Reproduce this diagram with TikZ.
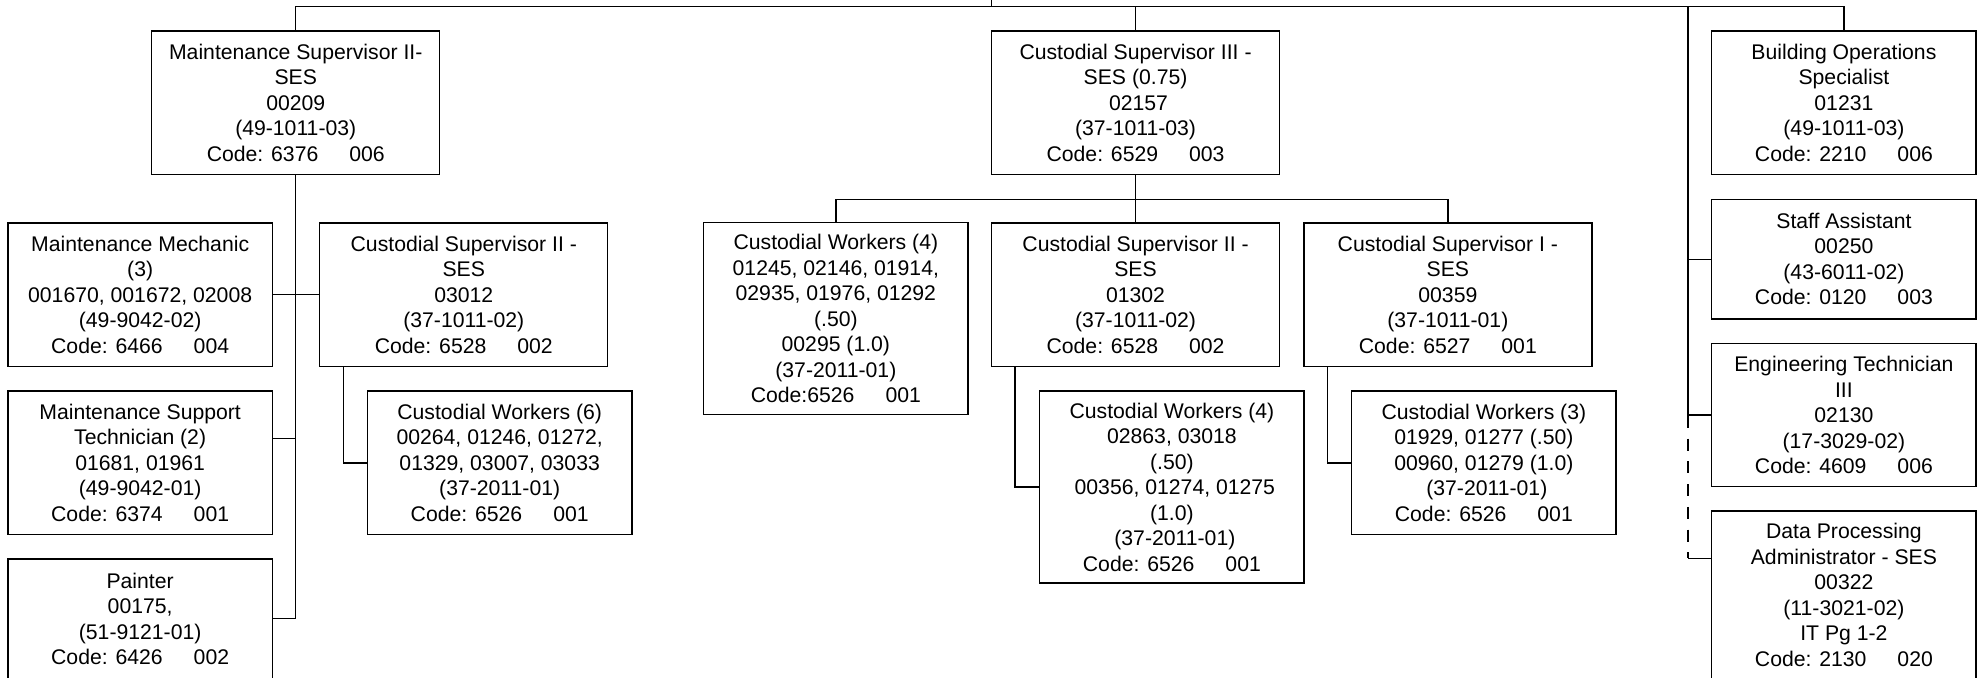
\documentclass[tikz,border=0pt]{standalone}
\usepackage{fontspec}
\setmainfont{Liberation Sans}
\usetikzlibrary{calc}
% gap between the code number and the unit number
\newcommand{\codegap}{\hspace{15.5pt}}
\newcommand{\lead}{\hspace*{0.28em}}
\begin{document}
\begin{tikzpicture}[x=0.5pt,y=-0.5pt,
  line width=0.65pt,
  box/.style={draw, line width=0.65pt, align=center, inner sep=0pt,
    font=\fontsize{10.6}{12.75}\selectfont, anchor=center},
  wide/.style={box, minimum width=144pt},
  narrow/.style={box, minimum width=132.15pt},
  rows4/.style={minimum height=59.8pt},
  rows5/.style={minimum height=71.8pt},
  rows6/.style={minimum height=83.75pt},
  rows7/.style={minimum height=96pt},
  link/.style={draw, line width=0.65pt},
  dashlink/.style={draw, line width=0.65pt, dash pattern=on 6pt off 5.35pt, dash phase=6pt}]
\clip (0,0) rectangle (1985,677);
\useasboundingbox (0,0) rectangle (1985,677);

% ---- top row ----
\node[wide,rows5] (ms) at (295.75,102.65) {Maintenance Supervisor II-\\SES\\00209\\(49-1011-03)\\Code: 6376\codegap 006};
\node[wide,rows5] (cs3) at (1135.55,102.65) {Custodial Supervisor III -\\SES (0.75)\\\lead 02157\\(37-1011-03)\\Code: 6529\codegap 003};
\node[narrow,rows5] (bos) at (1843.9,102.65) {Building Operations\\Specialist\\01231\\(49-1011-03)\\Code: 2210\codegap 006};

% ---- maintenance branch ----
\node[narrow,rows5] (mm) at (140.15,294.7) {Maintenance Mechanic\\(3)\\001670, 001672, 02008\\(49-9042-02)\\Code: 6466\codegap 004};
\node[wide,rows5] (cs2a) at (463.8,294.7) {Custodial Supervisor II -\\SES\\03012\\(37-1011-02)\\Code: 6528\codegap 002};
\node[narrow,rows5] (mst) at (140.15,462.85) {Maintenance Support\\Technician (2)\\01681, 01961\\(49-9042-01)\\Code: 6374\codegap 001};
\node[narrow,rows5] (cw6) at (499.7,462.85) {Custodial Workers (6)\\00264, 01246, 01272,\\01329, 03007, 03033\\(37-2011-01)\\Code: 6526\codegap 001};
\node[narrow,rows4] (painter) at (140.15,618.75) {Painter\\00175,\\(51-9121-01)\\Code: 6426\codegap 002};

% ---- custodial branch ----
\node[narrow,rows7] (cw4a) at (835.85,318.7) {Custodial Workers (4)\\01245, 02146, 01914,\\02935, 01976, 01292\\(.50)\\00295 (1.0)\\(37-2011-01)\\Code:6526\codegap 001};
\node[wide,rows5] (cs2b) at (1135.55,294.7) {Custodial Supervisor II -\\SES\\01302\\(37-1011-02)\\Code: 6528\codegap 002};
\node[wide,rows5] (cs1) at (1447.85,294.7) {Custodial Supervisor I -\\SES\\00359\\(37-1011-01)\\Code: 6527\codegap 001};
\node[narrow,rows7] (cw4b) at (1171.9,487) {Custodial Workers (4)\\02863, 03018\\(.50)\\\lead 00356, 01274, 01275\\(1.0)\\\lead (37-2011-01)\\Code: 6526\codegap 001};
\node[narrow,rows5] (cw3) at (1483.85,462.85) {Custodial Workers (3)\\01929, 01277 (.50)\\00960, 01279 (1.0)\\\lead (37-2011-01)\\Code: 6526\codegap 001};

% ---- staff column ----
\node[narrow,rows4] (sa) at (1843.9,259.15) {Staff Assistant\\00250\\(43-6011-02)\\Code: 0120\codegap 003};
\node[narrow,rows5] (et) at (1843.9,415) {Engineering Technician\\III\\02130\\(17-3029-02)\\Code: 4609\codegap 006};
\node[narrow,rows6] (dp) at (1843.9,594.75) {Data Processing\\Administrator - SES\\00322\\(11-3021-02)\\IT Pg 1-2\\Code: 2130\codegap 020};

% ---- connector points ----
\coordinate (root) at (991.6,-10);
\coordinate (bar) at (991.6,6.7);
\coordinate (rv) at (1688.1,6.7);
\coordinate (rvdash) at (1688.1,428);
\coordinate (rvend) at (1688.1,558.3);
\coordinate (dpin) at (1711.8,558.3);
\coordinate (bar2) at (1135.55,199.3);
\coordinate (mstin) at (272.3,438.7);

% top level
\draw[link] (root) -- (bar);
\draw[link] (ms.north) -- (ms.north |- bar) -- (bos.north |- bar) -- (bos.north);
\draw[link] (cs3.north) -- (cs3.north |- bar);

% staff column spine
\draw[link] (rv) -- (rvdash);
\draw[link] (sa.west) -- (sa.west -| rv);
\draw[link] (et.west) -- (et.west -| rv);
\draw[dashlink] (rvdash) -- (rvend);
\draw[link] (rvend) -- (dpin);

% maintenance spine
\draw[link] (ms.south) |- (painter.east);
\draw[link] (mm.east) -- (cs2a.west);
\draw[link] (mstin) -- (mstin -| ms.south);
\draw[link] ($(cs2a.south west)+(24,0)$) |- (cw6.west);

% custodial tree
\draw[link] (cs3.south) -- (cs2b.north);
\draw[link] (cw4a.north) -- (cw4a.north |- bar2) -- (cs1.north |- bar2) -- (cs1.north);
\draw[link] ($(cs2b.south west)+(24,0)$) |- (cw4b.west);
\draw[link] ($(cs1.south west)+(24,0)$) |- (cw3.west);
\end{tikzpicture}
\end{document}
